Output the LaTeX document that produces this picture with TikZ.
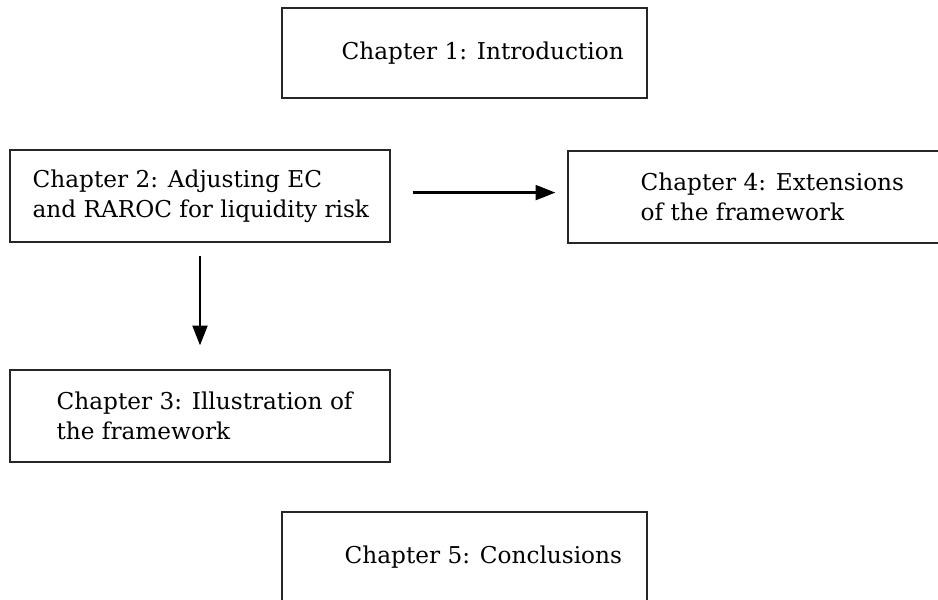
\documentclass[tikz,border=0pt]{standalone}
\usepackage{fontspec}
\setmainfont{DejaVu Serif}
\usetikzlibrary{arrows.meta}

\begin{document}
\begin{tikzpicture}[every node/.style={font=\fontsize{16.5}{21.3}\selectfont}, >={Triangle[length=14pt, width=10.5pt]},
	chbox/.style={draw=black!85, line width=0.9pt, inner sep=0pt},
	chtext/.style={anchor=west, align=left, inner sep=0pt}]
	\useasboundingbox (0,0) rectangle (23.45,14.975);
	% chapter boxes: name/x/y/width/height/indent/text
	\foreach \n/\x/\y/\w/\h/\p/\t in {
		c1/11.6125/13.65/9.125/2.25/1.5/{Chapter 1: Introduction},
		c2/5.0/10.075/9.5/2.3/0.575/{Chapter 2: Adjusting EC\\and RAROC for liquidity risk},
		c4/18.95/10.05/9.5/2.3/1.825/{Chapter 4: Extensions\\of the framework},
		c3/5.0/4.575/9.5/2.3/1.175/{Chapter 3: Illustration of\\the framework},
		c5/11.6125/1.05/9.125/2.25/1.575/{Chapter 5: Conclusions}} {
		\node[chbox, minimum width=\w cm, minimum height=\h cm] (\n) at (\x,\y) {};
		\node[chtext] (\n-txt) at ([xshift=\p cm]\n.west) {\t};
	}
	\draw[->, line width=1.9pt, shorten <=0.55cm, shorten >=0.3cm] ([yshift=0.085cm]c2.east) -- ([yshift=0.085cm]c2.east -| c4.west);
	\draw[->, line width=1.9pt, shorten <=0.325cm, shorten >=0.6cm] (c2.south) -- (c3.north);
\end{tikzpicture}
\end{document}
